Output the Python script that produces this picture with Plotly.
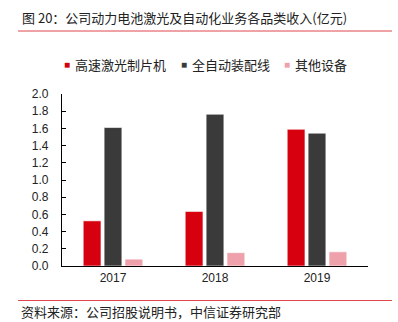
import plotly.graph_objects as go

years = ["2017", "2018", "2019"]
series_names = ["高速激光制片机", "全自动装配线", "其他设备"]
laser = [0.525, 0.635, 1.59]
assembly = [1.61, 1.765, 1.545]
other = [0.08, 0.155, 0.165]
colors = ["#D7000F", "#3A3A3A", "#EFA1AB"]
y_ticks = [0.0, 0.2, 0.4, 0.6, 0.8, 1.0, 1.2, 1.4, 1.6, 1.8, 2.0]

FONT = "Liberation Sans, Arial, Noto Sans CJK SC, sans-serif"
CJK = "Noto Sans CJK SC, Liberation Sans, sans-serif"

W, H = 398, 322
L, R, T, B = 62, 30, 94, 56
pw, ph = W - L - R, H - T - B

def px(x):
    return (x - L) / pw

def py(y):
    return (H - B - y) / ph

fig = go.Figure()
for name, vals, c in zip(series_names, [laser, assembly, other], colors):
    fig.add_trace(go.Bar(x=years, y=vals, name=name, marker_color=c,
                         marker_line=dict(color="white", width=0.6),
                         showlegend=False))

annotations = [
    dict(text="图 20：公司动力电池激光及自动化业务各品类收入(亿元)", xref="paper", yref="paper",
         x=px(20), y=py(17), xanchor="left", yanchor="middle", showarrow=False,
         font=dict(family=CJK, size=13, color="#222")),
    dict(text="资料来源：公司招股说明书，中信证券研究部", xref="paper", yref="paper",
         x=px(19), y=py(311), xanchor="left", yanchor="middle", showarrow=False,
         font=dict(family=CJK, size=13, color="#222")),
]
leg_x = [67, 184, 287]
for lx, name, c in zip(leg_x, series_names, colors):
    annotations.append(dict(text="■", xref="paper", yref="paper", x=px(lx), y=py(65),
                            xanchor="center", yanchor="middle", showarrow=False,
                            font=dict(family=FONT, size=10, color=c)))
    annotations.append(dict(text=name, xref="paper", yref="paper", x=px(lx + 6), y=py(65),
                            xanchor="left", yanchor="middle", showarrow=False,
                            font=dict(family=CJK, size=13, color="#222")))

shapes = [
    dict(type="line", xref="paper", yref="paper", x0=px(18), x1=px(392), y0=py(31), y1=py(31),
         line=dict(color="#E0474C", width=1)),
    dict(type="line", xref="paper", yref="paper", x0=px(18), x1=px(392), y0=py(300.5), y1=py(300.5),
         line=dict(color="#E0474C", width=1)),
]

fig.update_layout(
    width=W, height=H, margin=dict(l=L, r=R, t=T, b=B),
    paper_bgcolor="white", plot_bgcolor="white",
    barmode="group", bargap=0.385, bargroupgap=0.15,
    font=dict(family=FONT, size=12, color="#222"),
    annotations=annotations, shapes=shapes,
    xaxis=dict(showline=True, linecolor="black", linewidth=1.2, ticks="",
               tickfont=dict(size=12, color="#222"), showgrid=False),
    yaxis=dict(range=[0, 2.0], tickvals=y_ticks, ticktext=[f"{v:.1f}" for v in y_ticks],
               showline=True, linecolor="black", linewidth=1.2, ticks="inside", ticklen=4,
               tickcolor="black", ticklabelstandoff=10, showgrid=False, zeroline=False,
               tickfont=dict(size=12, color="#222")),
)

fig.write_html("out.html")
